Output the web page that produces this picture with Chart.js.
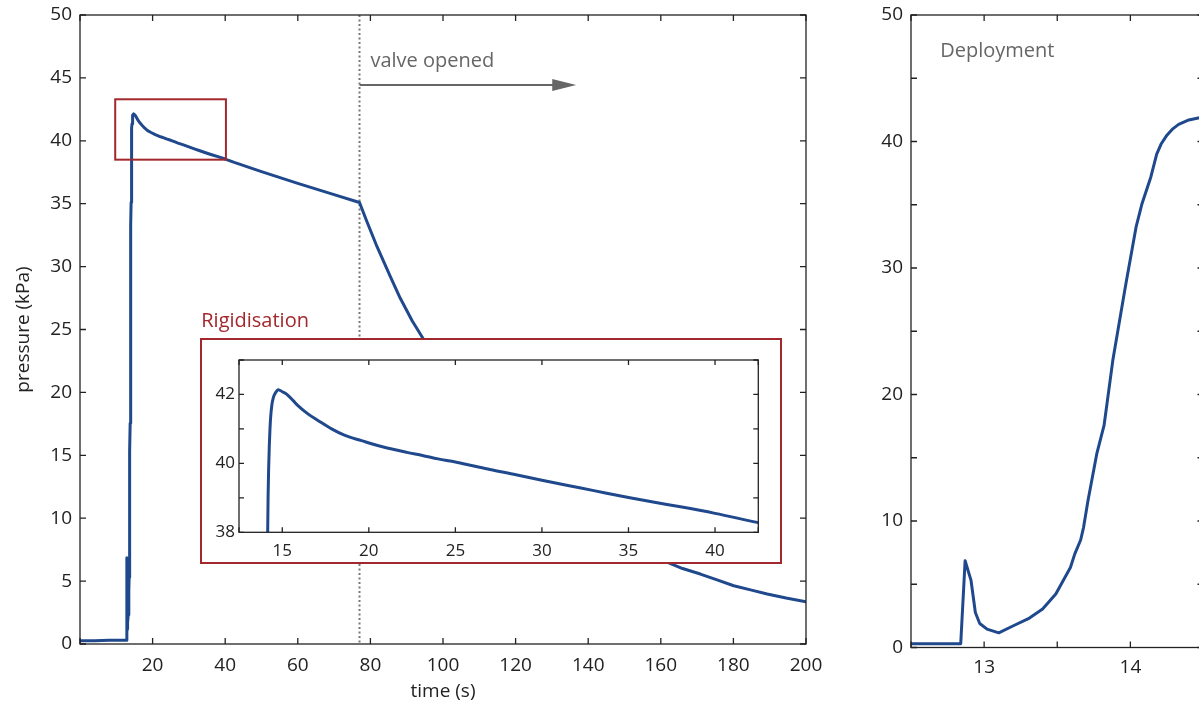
<!DOCTYPE html>
<html>
<head>
<meta charset="utf-8">
<script src="https://cdn.jsdelivr.net/npm/chart.js@4/dist/chart.umd.min.js"></script>
<style>
  html, body { margin: 0; padding: 0; background: #fff; overflow: hidden; width: 1199px; height: 704px; }
  canvas { position: absolute; }
  #mainChart { left: 0; top: 0; }
  #insetChart { left: 200px; top: 338px; }
  #deployChart { left: 850px; top: 0; }
</style>
</head>
<body>
<canvas id="mainChart" width="850" height="704"></canvas>
<canvas id="insetChart" width="582" height="226"></canvas>
<canvas id="deployChart" width="360" height="704"></canvas>
<script>
// DATA (time in s, pressure in kPa)
const timeS = [0, 4, 8, 12.84, 12.87, 12.91, 12.94, 12.97, 13.02, 13.1, 13.2, 13.31, 13.4, 13.49, 13.54,
  13.59, 13.62, 13.66, 13.68, 13.71, 13.77, 13.82, 13.88, 13.95, 13.97, 14.04, 14.08, 14.14, 14.18,
  14.21, 14.25, 14.29, 14.33, 14.4, 14.48, 14.6, 14.77, 15.0, 15.25, 15.63, 15.92, 16.5, 17.08, 17.85,
  18.62, 19.58, 20.73, 22.2, 23.1, 24.0, 25.0, 26.0, 27.0, 28.5, 30.0,
  31.5, 33.0, 35.0, 36.5, 38.0, 40.0, 42.5, 50, 60, 70, 77, 79, 81.8, 85.5, 88.2, 91.5, 95.1, 100,
  110, 120, 130, 140, 150, 161.7, 166, 170.9, 175.5, 180.1, 185, 189.3, 194.5, 200];
const pressureKPa = [0.25, 0.25, 0.3, 0.3, 6.86, 5.33, 2.77, 1.9, 1.45, 1.16, 1.72, 2.33, 3.04, 4.23, 5.28,
  6.33, 7.4, 8.5, 9.5, 11.6, 15.3, 17.55, 22.7, 27.45, 28.8, 33.3, 35.1, 37.2, 39.0,
  39.8, 40.5, 41.0, 41.35, 41.7, 41.9, 42.04, 42.14, 42.08, 42.01, 41.82, 41.67, 41.43, 41.24, 41.0,
  40.81, 40.66, 40.49, 40.32, 40.23, 40.13, 40.04, 39.93, 39.82, 39.67, 39.51,
  39.36, 39.21, 39.01, 38.87, 38.74, 38.55, 38.28, 37.55, 36.62, 35.72, 35.1, 33.6, 31.6, 29.2, 27.5, 25.7, 24.0, 22.1,
  18.4, 15.2, 12.5, 10.3, 8.4, 6.5, 6.0, 5.56, 5.1, 4.63, 4.28, 3.97, 3.65, 3.36];

// TICKS
const mainXTicks = [0, 20, 40, 60, 80, 100, 120, 140, 160, 180, 200];
const mainYTicks = [0, 5, 10, 15, 20, 25, 30, 35, 40, 45, 50];
const insetXTicks = [12.5, 15, 20, 25, 30, 35, 40, 42.5];
const insetYTicks = [38, 39, 40, 41, 42, 43];
const deployXTicks = [12.5, 13, 13.5, 14, 14.5];
const deployYTicks = [0, 5, 10, 15, 20, 25, 30, 35, 40, 45, 50];

// ANNOTATIONS
const valveTime = 77;
const zoomBoxTime = [9.7, 40.2];
const zoomBoxPressure = [38.5, 43.3];

// STYLE
const LINE = '#1f498c';
const RED = '#a3282d';
const GREY = '#666';
const AXIS = '#222';
const FAMILY = "'Open Sans', 'Noto Sans', sans-serif";
Chart.defaults.font.family = FAMILY;
Chart.defaults.color = AXIS;

const points = timeS.map((t, i) => ({ x: t, y: pressureKPa[i] }));

function dataset(smooth) {
  const ds = { data: points, borderColor: LINE, borderWidth: 3, pointRadius: 0, tension: 0,
               borderJoinStyle: 'round', borderCapStyle: 'round' };
  if (smooth) ds.cubicInterpolationMode = 'monotone';
  return ds;
}

function setTicks(list) {
  return s => { s.ticks = list.map(v => ({ value: v })); };
}

// fixed axis sizes, no extra room for overhanging labels
function fitX(h) {
  return s => { s.height = h; s.paddingLeft = 0; s.paddingRight = 0; };
}
function fitY(w) {
  return s => { s.width = w; s.paddingTop = 0; s.paddingBottom = 0; };
}

// box frame with inward ticks on all four sides
const boxTicks = {
  id: 'boxTicks',
  afterDraw(chart, args, opts) {
    const { ctx, chartArea: a, scales } = chart;
    ctx.save();
    ctx.strokeStyle = opts.color;
    ctx.lineWidth = opts.width;
    ctx.strokeRect(a.left, a.top, a.right - a.left, a.bottom - a.top);
    ctx.beginPath();
    scales.x.ticks.forEach(t => {
      const px = scales.x.getPixelForValue(t.value);
      ctx.moveTo(px, a.bottom); ctx.lineTo(px, a.bottom - opts.len);
      ctx.moveTo(px, a.top); ctx.lineTo(px, a.top + opts.len);
    });
    scales.y.ticks.forEach(t => {
      const py = scales.y.getPixelForValue(t.value);
      ctx.moveTo(a.left, py); ctx.lineTo(a.left + opts.len, py);
      ctx.moveTo(a.right, py); ctx.lineTo(a.right - opts.len, py);
    });
    ctx.stroke();
    ctx.restore();
  }
};

// valve line, arrow, zoom box and labels on the main chart
const valveNotes = {
  id: 'valveNotes',
  beforeDatasetsDraw(chart) {
    const { ctx, chartArea: a, scales: { x } } = chart;
    const px = x.getPixelForValue(valveTime);
    ctx.save();
    ctx.strokeStyle = '#777';
    ctx.lineWidth = 2;
    ctx.setLineDash([2, 2.5]);
    ctx.beginPath();
    ctx.moveTo(px, a.top);
    ctx.lineTo(px, a.bottom);
    ctx.stroke();
    ctx.restore();
  },
  afterDatasetsDraw(chart) {
    const { ctx, scales: { x, y } } = chart;
    ctx.save();
    // arrow
    const x0 = x.getPixelForValue(valveTime), x1 = x.getPixelForValue(136.7);
    const ay = y.getPixelForValue(44.44);
    ctx.strokeStyle = GREY; ctx.fillStyle = GREY; ctx.lineWidth = 2;
    ctx.beginPath(); ctx.moveTo(x0, ay); ctx.lineTo(x1 - 20, ay); ctx.stroke();
    ctx.beginPath(); ctx.moveTo(x1, ay); ctx.lineTo(x1 - 24, ay - 6); ctx.lineTo(x1 - 24, ay + 6); ctx.closePath(); ctx.fill();
    ctx.font = '20px ' + FAMILY;
    ctx.textBaseline = 'alphabetic';
    ctx.fillText('valve opened', x.getPixelForValue(80), y.getPixelForValue(45.9));
    // zoom box
    ctx.strokeStyle = RED; ctx.lineWidth = 2;
    const bx0 = x.getPixelForValue(zoomBoxTime[0]), bx1 = x.getPixelForValue(zoomBoxTime[1]);
    const by0 = y.getPixelForValue(zoomBoxPressure[1]), by1 = y.getPixelForValue(zoomBoxPressure[0]);
    ctx.strokeRect(bx0, by0, bx1 - bx0, by1 - by0);
    ctx.fillStyle = RED;
    ctx.fillText('Rigidisation', x.getPixelForValue(33.4), y.getPixelForValue(25.2));
    ctx.restore();
  }
};

const insetFrame = {
  id: 'insetFrame',
  beforeDraw(chart) {
    const { ctx, width, height } = chart;
    ctx.save();
    ctx.fillStyle = '#fff';
    ctx.fillRect(0, 0, width, height);
    ctx.restore();
  },
  afterDraw(chart) {
    const { ctx, width, height } = chart;
    ctx.save();
    ctx.strokeStyle = RED; ctx.lineWidth = 2;
    ctx.strokeRect(1, 1, width - 2, height - 2);
    ctx.restore();
  }
};

const deployNote = {
  id: 'deployNote',
  afterDatasetsDraw(chart) {
    const { ctx, scales: { x, y } } = chart;
    ctx.save();
    ctx.fillStyle = GREY;
    ctx.font = '20px ' + FAMILY;
    ctx.fillText('Deployment', x.getPixelForValue(12.7), y.getPixelForValue(46.7));
    ctx.restore();
  }
};

function baseOptions(padding) {
  return {
    responsive: false, animation: false, events: [],
    layout: { padding },
    plugins: { legend: { display: false }, tooltip: { enabled: false } }
  };
}

const noGrid = { display: false, drawTicks: false };

// MAIN CHART
const mainOpts = baseOptions({ left: 0, top: 15, right: 44, bottom: 0 });
mainOpts.plugins.boxTicks = { len: 6, color: AXIS, width: 1.3 };
mainOpts.scales = {
  x: {
    type: 'linear', min: 0, max: 200,
    grid: noGrid, border: { display: false },
    afterBuildTicks: setTicks(mainXTicks),
    afterFit: fitX(60),
    ticks: { padding: 10, maxRotation: 0, autoSkip: false, font: { size: 19 },
             callback: v => v === 0 ? '' : v },
    title: { display: true, text: 'time (s)', font: { size: 19 }, padding: { top: 0, bottom: 1 } }
  },
  y: {
    type: 'linear', min: 0, max: 50,
    grid: noGrid, border: { display: false },
    afterBuildTicks: setTicks(mainYTicks),
    afterFit: fitY(80),
    ticks: { padding: 8, autoSkip: false, font: { size: 19 } },
    title: { display: true, text: 'pressure (kPa)', font: { size: 19 }, padding: { top: 12, bottom: 0 } }
  }
};
new Chart(document.getElementById('mainChart'), {
  type: 'line',
  data: { datasets: [dataset(false)] },
  options: mainOpts,
  plugins: [boxTicks, valveNotes]
});

// INSET (Rigidisation)
const insetOpts = baseOptions({ left: 0, top: 22, right: 23.7, bottom: 0 });
insetOpts.plugins.boxTicks = { len: 5, color: AXIS, width: 1.3 };
insetOpts.scales = {
  x: {
    type: 'linear', min: 12.5, max: 42.5,
    grid: noGrid, border: { display: false },
    afterBuildTicks: setTicks(insetXTicks),
    afterFit: fitX(31.7),
    ticks: { padding: 9, maxRotation: 0, autoSkip: false, font: { size: 17 },
             callback: v => v % 5 === 0 ? v : '' }
  },
  y: {
    type: 'linear', min: 38, max: 43,
    grid: noGrid, border: { display: false },
    afterBuildTicks: setTicks(insetYTicks),
    afterFit: fitY(39),
    ticks: { padding: 4, autoSkip: false, font: { size: 17 },
             callback: v => v % 2 === 0 ? v : '' }
  }
};
new Chart(document.getElementById('insetChart'), {
  type: 'line',
  data: { datasets: [dataset(true)] },
  options: insetOpts,
  plugins: [insetFrame, boxTicks]
});

// DEPLOYMENT CHART
const deployOpts = baseOptions({ left: 0, top: 15, right: 6.5, bottom: 0 });
deployOpts.plugins.boxTicks = { len: 6, color: AXIS, width: 1.3 };
deployOpts.scales = {
  x: {
    type: 'linear', min: 12.5, max: 14.5,
    grid: noGrid, border: { display: false },
    afterBuildTicks: setTicks(deployXTicks),
    afterFit: fitX(56.5),
    ticks: { padding: 9, maxRotation: 0, autoSkip: false, font: { size: 19 },
             callback: v => Number.isInteger(v) ? v : '' }
  },
  y: {
    type: 'linear', min: 0, max: 50,
    grid: noGrid, border: { display: false },
    afterBuildTicks: setTicks(deployYTicks),
    afterFit: fitY(61),
    ticks: { padding: 8, autoSkip: false, font: { size: 19 },
             callback: v => v % 10 === 0 ? v : '' }
  }
};
new Chart(document.getElementById('deployChart'), {
  type: 'line',
  data: { datasets: [dataset(false)] },
  options: deployOpts,
  plugins: [boxTicks, deployNote]
});
</script>
</body>
</html>
